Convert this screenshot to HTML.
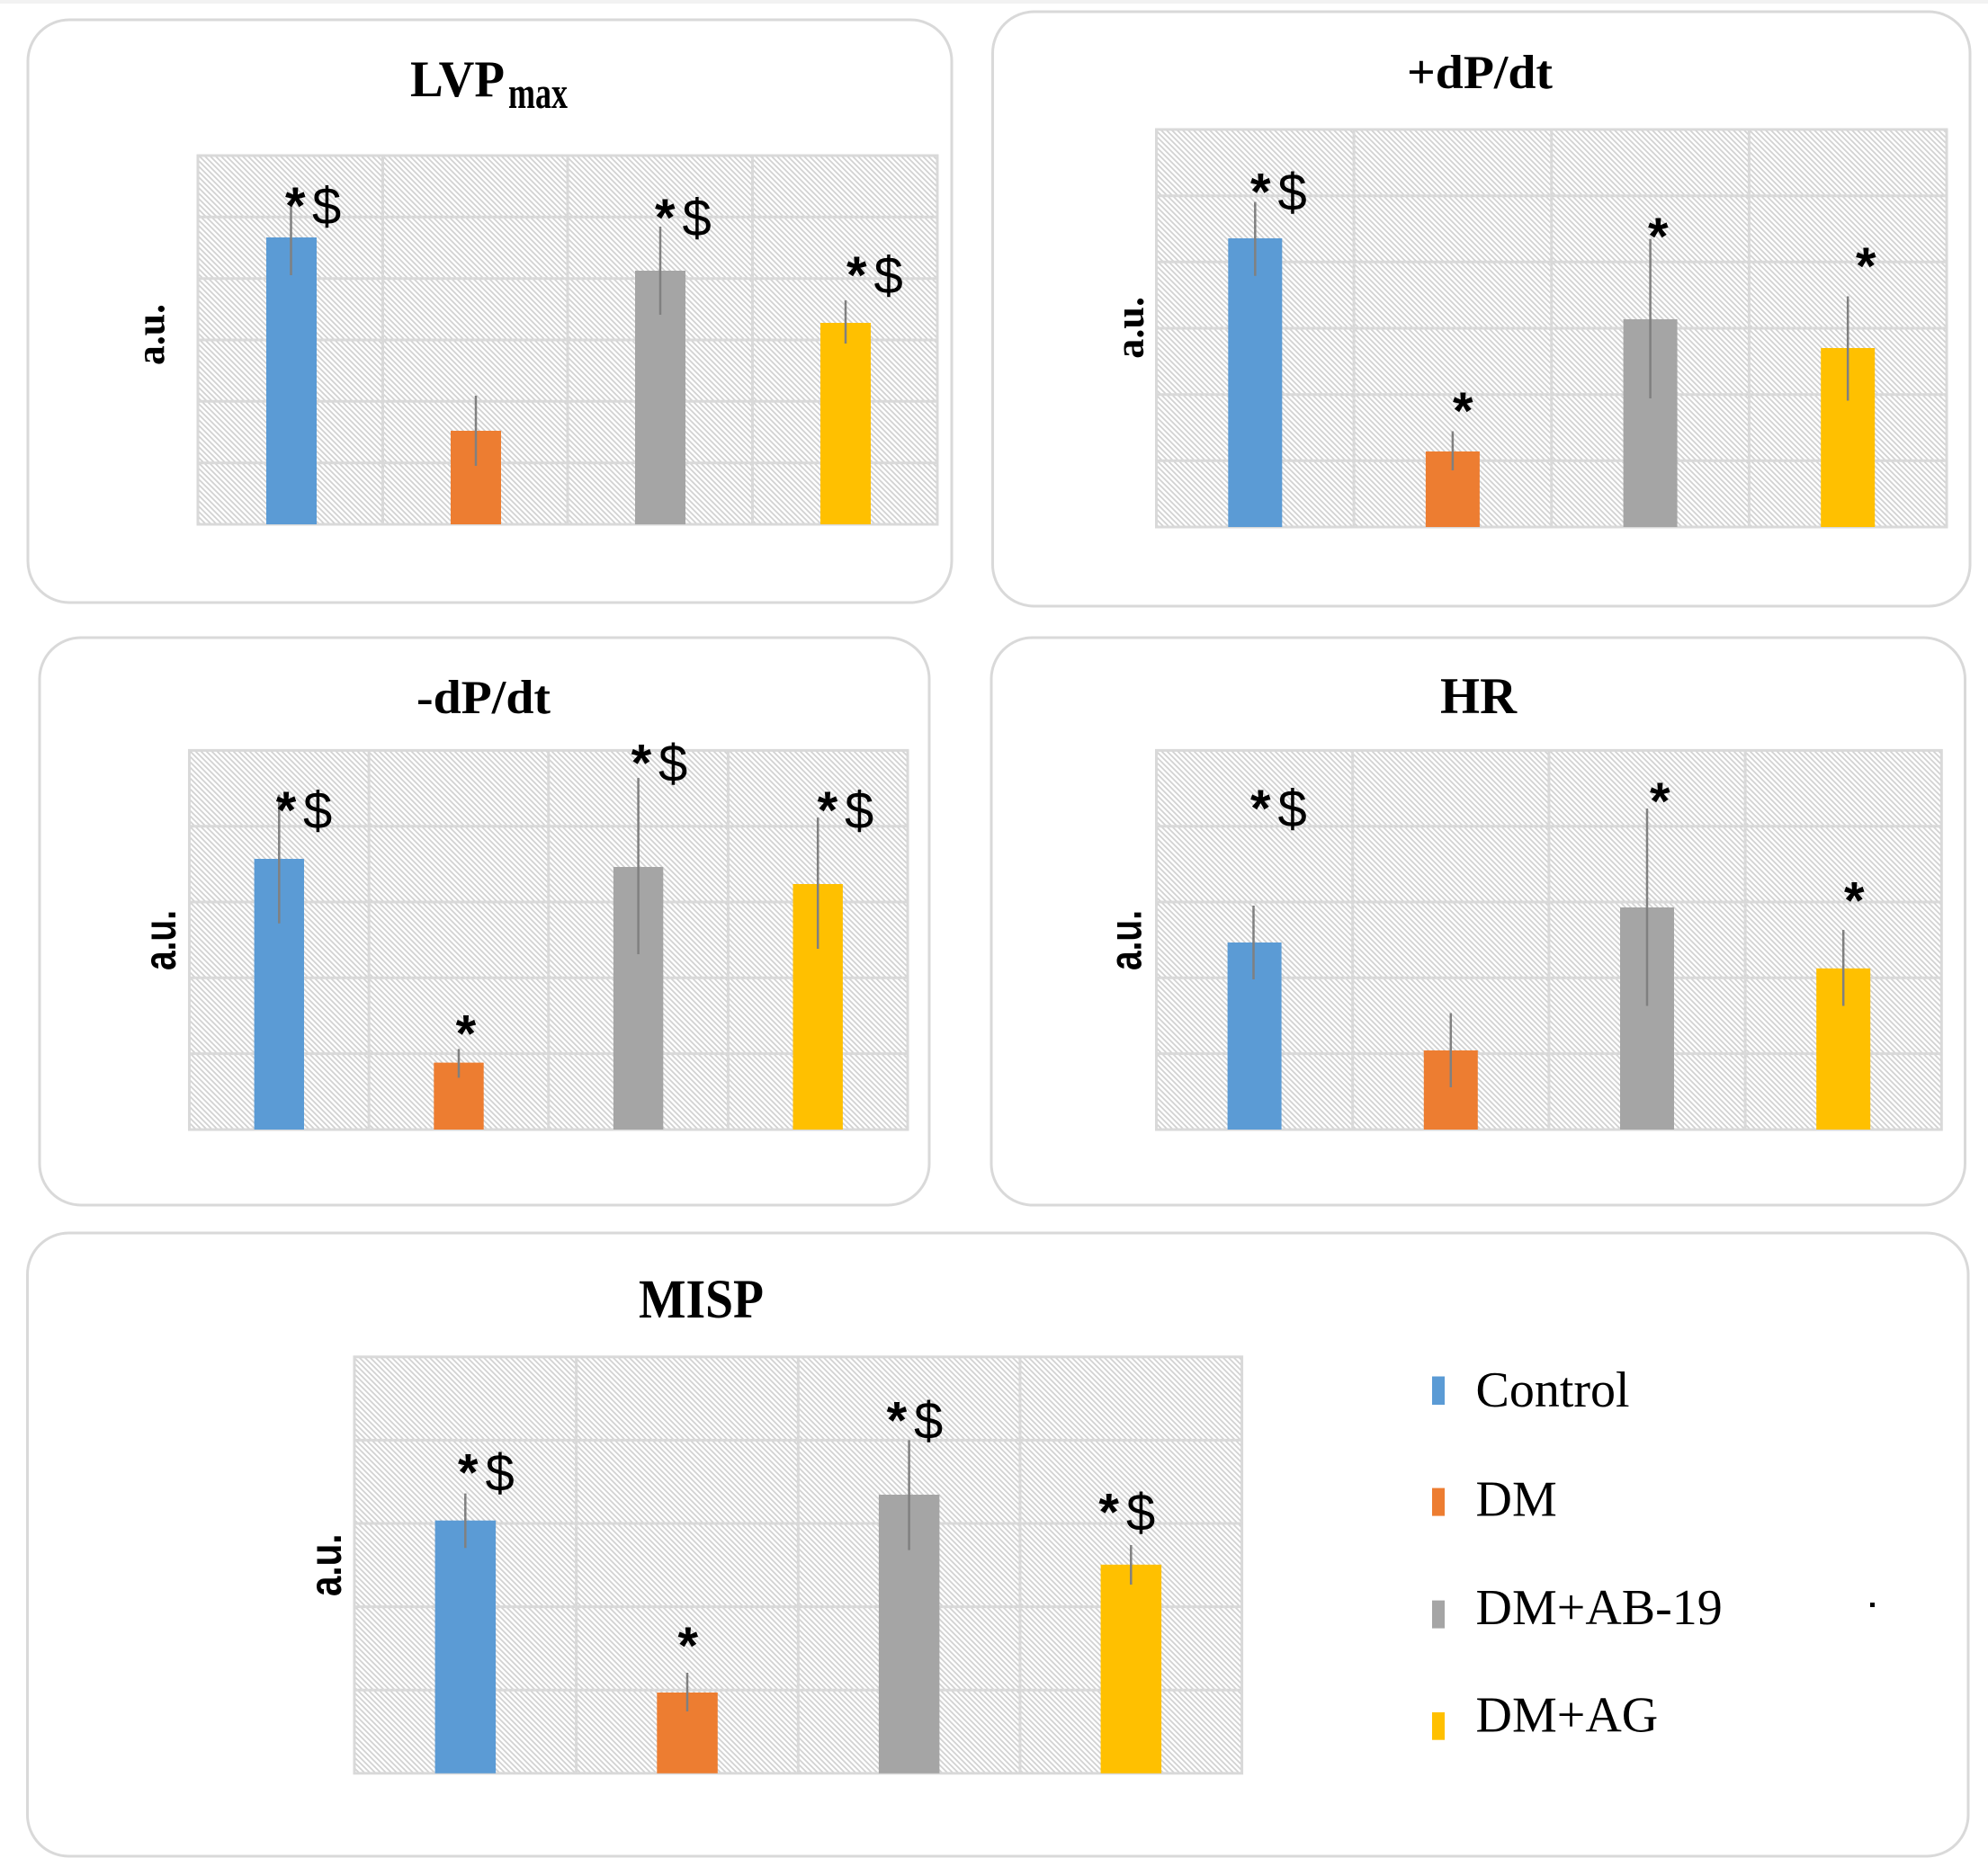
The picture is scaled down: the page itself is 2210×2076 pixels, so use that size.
<!DOCTYPE html>
<html>
<head>
<meta charset="utf-8">
<style>
html,body{margin:0;padding:0;background:#fff;}
svg{display:block;}
.ttl{font-family:"Liberation Serif",serif;font-weight:bold;fill:#000;}
.aus{font-family:"Liberation Serif",serif;font-weight:bold;fill:#000;}
.aun{font-family:"Liberation Sans",sans-serif;font-weight:bold;fill:#000;}
.an{font-family:"Liberation Sans",sans-serif;fill:#000;font-size:58px;}
.lg{font-family:"Liberation Serif",serif;fill:#000;font-size:56px;}
</style>
</head>
<body>
<svg width="2210" height="2076" viewBox="0 0 2210 2076" xmlns="http://www.w3.org/2000/svg">
<defs>
<pattern id="h" patternUnits="userSpaceOnUse" width="6" height="6">
<rect width="6" height="6" fill="#fff"/>
<path d="M-1,-1 L7,7 M-1,5 L1,7 M5,-1 L7,1" stroke="#d2d2d2" stroke-width="1.8"/>
</pattern>
</defs>
<rect x="0" y="0" width="2210" height="2076" fill="#fff"/>
<rect x="0" y="0" width="2210" height="4" fill="#f2f2f2"/>

<!-- Panels -->
<rect x="31" y="22" width="1027" height="648" rx="46" fill="#fff" stroke="#d9d9d9" stroke-width="3"/>
<rect x="1103.5" y="13" width="1086.5" height="661" rx="46" fill="#fff" stroke="#d9d9d9" stroke-width="3"/>
<rect x="44" y="709" width="989" height="631" rx="46" fill="#fff" stroke="#d9d9d9" stroke-width="3"/>
<rect x="1102" y="709" width="1082.5" height="631" rx="46" fill="#fff" stroke="#d9d9d9" stroke-width="3"/>
<rect x="30.5" y="1371" width="2157.5" height="693" rx="46" fill="#fff" stroke="#d9d9d9" stroke-width="3"/>

<!-- ===== Panel 1 LVPmax ===== -->
<rect x="220" y="173" width="822" height="410" fill="url(#h)"/>
<g stroke="#d9d9d9" stroke-width="3" fill="none">
<path d="M220,241.3H1042M220,309.7H1042M220,378H1042M220,446.3H1042M220,514.7H1042"/>
<path d="M425.5,173V583M631,173V583M836.5,173V583"/>
<rect x="220" y="173" width="822" height="410"/>
</g>
<rect x="296" y="264" width="56" height="319" fill="#5b9bd5"/>
<rect x="501" y="479" width="56" height="104" fill="#ed7d31"/>
<rect x="706" y="301" width="56" height="282" fill="#a5a5a5"/>
<rect x="912" y="359" width="56" height="224" fill="#ffc000"/>
<g stroke="#808080" stroke-width="2.5">
<path d="M323.5,223V306M529,440V518M734,252V350M940,334V382"/>
</g>
<text class="an" y="249"><tspan x="317" font-weight="bold">*</tspan><tspan x="347">$</tspan></text>
<text class="an" y="262"><tspan x="728" font-weight="bold">*</tspan><tspan x="758.5">$</tspan></text>
<text class="an" y="326"><tspan x="941" font-weight="bold">*</tspan><tspan x="971.5">$</tspan></text>
<text class="ttl" x="456" y="107" font-size="57" textLength="105" lengthAdjust="spacingAndGlyphs">LVP</text>
<text class="ttl" x="565" y="120" font-size="50" textLength="66" lengthAdjust="spacingAndGlyphs">max</text>
<text class="aus" font-size="46" textLength="68" lengthAdjust="spacingAndGlyphs" transform="translate(182.7,406) rotate(-90)">a.u.</text>

<!-- ===== Panel 2 +dP/dt ===== -->
<rect x="1285.5" y="144" width="878.5" height="442" fill="url(#h)"/>
<g stroke="#d9d9d9" stroke-width="3" fill="none">
<path d="M1285.5,217.7H2164M1285.5,291.3H2164M1285.5,365H2164M1285.5,438.7H2164M1285.5,512.3H2164"/>
<path d="M1505.1,144V586M1724.75,144V586M1944.4,144V586"/>
<rect x="1285.5" y="144" width="878.5" height="442"/>
</g>
<rect x="1365.3" y="265" width="60" height="321" fill="#5b9bd5"/>
<rect x="1584.9" y="502" width="60" height="84" fill="#ed7d31"/>
<rect x="1804.6" y="355" width="60" height="231" fill="#a5a5a5"/>
<rect x="2024.2" y="387" width="60" height="199" fill="#ffc000"/>
<g stroke="#808080" stroke-width="2.5">
<path d="M1395.3,224.5V306.7M1614.9,479.5V523M1834.6,265.6V443M2054.2,329.5V445.5"/>
</g>
<text class="an" y="233.5"><tspan x="1390" font-weight="bold">*</tspan><tspan x="1420.5">$</tspan></text>
<text class="an" x="1615" y="477" font-weight="bold">*</text>
<text class="an" x="1832" y="283" font-weight="bold">*</text>
<text class="an" x="2063" y="316" font-weight="bold">*</text>
<text class="ttl" x="1564" y="98" font-size="53" textLength="162" lengthAdjust="spacingAndGlyphs">+dP/dt</text>
<text class="aus" font-size="46" textLength="68.7" lengthAdjust="spacingAndGlyphs" transform="translate(1271,398.7) rotate(-90)">a.u.</text>

<!-- ===== Panel 3 -dP/dt ===== -->
<rect x="210.5" y="834.4" width="798.5" height="421.6" fill="url(#h)"/>
<g stroke="#d9d9d9" stroke-width="3" fill="none">
<path d="M210.5,918.7H1009M210.5,1003H1009M210.5,1087.3H1009M210.5,1171.6H1009"/>
<path d="M410.1,834.4V1256M609.75,834.4V1256M809.4,834.4V1256"/>
<rect x="210.5" y="834.4" width="798.5" height="421.6"/>
</g>
<rect x="282.6" y="955" width="55.4" height="301" fill="#5b9bd5"/>
<rect x="482.3" y="1181.6" width="55.4" height="74.4" fill="#ed7d31"/>
<rect x="681.9" y="964" width="55.4" height="292" fill="#a5a5a5"/>
<rect x="881.5" y="983" width="55.4" height="273" fill="#ffc000"/>
<g stroke="#808080" stroke-width="2.5">
<path d="M310.3,883.6V1026.7M510,1166.4V1198.4M709.6,865V1061M909.2,909V1055"/>
</g>
<text class="an" y="921"><tspan x="306.7" font-weight="bold">*</tspan><tspan x="337">$</tspan></text>
<text class="an" x="506.6" y="1169.5" font-weight="bold">*</text>
<text class="an" y="868.6"><tspan x="701.6" font-weight="bold">*</tspan><tspan x="732">$</tspan></text>
<text class="an" y="921"><tspan x="908.6" font-weight="bold">*</tspan><tspan x="939">$</tspan></text>
<text class="ttl" x="463" y="793" font-size="53" textLength="149" lengthAdjust="spacingAndGlyphs">-dP/dt</text>
<text class="aun" font-size="50" textLength="67" lengthAdjust="spacingAndGlyphs" transform="translate(195,1079) rotate(-90)">a.u.</text>

<!-- ===== Panel 4 HR ===== -->
<rect x="1285.5" y="834.4" width="872.8" height="421.6" fill="url(#h)"/>
<g stroke="#d9d9d9" stroke-width="3" fill="none">
<path d="M1285.5,918.7H2158.3M1285.5,1003H2158.3M1285.5,1087.3H2158.3M1285.5,1171.6H2158.3"/>
<path d="M1503.7,834.4V1256M1721.9,834.4V1256M1940.1,834.4V1256"/>
<rect x="1285.5" y="834.4" width="872.8" height="421.6"/>
</g>
<rect x="1364.6" y="1048" width="60" height="208" fill="#5b9bd5"/>
<rect x="1582.8" y="1168" width="60" height="88" fill="#ed7d31"/>
<rect x="1801" y="1009" width="60" height="247" fill="#a5a5a5"/>
<rect x="2019.2" y="1076.8" width="60" height="179.2" fill="#ffc000"/>
<g stroke="#808080" stroke-width="2.5">
<path d="M1393.5,1007V1089M1612.8,1126.5V1209M1831,899V1118.5M2049.2,1034V1118.5"/>
</g>
<text class="an" y="919"><tspan x="1390" font-weight="bold">*</tspan><tspan x="1420.5">$</tspan></text>
<text class="an" x="1834" y="911" font-weight="bold">*</text>
<text class="an" x="2050" y="1021.5" font-weight="bold">*</text>
<text class="ttl" x="1601" y="793" font-size="57" textLength="85" lengthAdjust="spacingAndGlyphs">HR</text>
<text class="aun" font-size="50" textLength="67" lengthAdjust="spacingAndGlyphs" transform="translate(1268.5,1079) rotate(-90)">a.u.</text>

<!-- ===== Panel 5 MISP ===== -->
<rect x="394" y="1508.8" width="986.6" height="463" fill="url(#h)"/>
<g stroke="#d9d9d9" stroke-width="3" fill="none">
<path d="M394,1601.4H1380.6M394,1694H1380.6M394,1786.6H1380.6M394,1879.2H1380.6"/>
<path d="M640.65,1508.8V1971.8M887.3,1508.8V1971.8M1133.95,1508.8V1971.8"/>
<rect x="394" y="1508.8" width="986.6" height="463"/>
</g>
<rect x="483.6" y="1690.7" width="67.5" height="281.1" fill="#5b9bd5"/>
<rect x="730.3" y="1882" width="67.5" height="89.8" fill="#ed7d31"/>
<rect x="976.9" y="1662" width="67.5" height="309.8" fill="#a5a5a5"/>
<rect x="1223.6" y="1739.8" width="67.5" height="232" fill="#ffc000"/>
<g stroke="#808080" stroke-width="2.5">
<path d="M517.3,1660.6V1721.3M764,1860V1903M1010.6,1601.4V1723.6M1257.3,1718V1762"/>
</g>
<text class="an" y="1657.6"><tspan x="509" font-weight="bold">*</tspan><tspan x="539.5">$</tspan></text>
<text class="an" x="753.5" y="1850" font-weight="bold">*</text>
<text class="an" y="1599.7"><tspan x="985.6" font-weight="bold">*</tspan><tspan x="1016">$</tspan></text>
<text class="an" y="1701.6"><tspan x="1221.4" font-weight="bold">*</tspan><tspan x="1252">$</tspan></text>
<text class="ttl" x="710" y="1465" font-size="61" textLength="139" lengthAdjust="spacingAndGlyphs">MISP</text>
<text class="aun" font-size="50" textLength="69.5" lengthAdjust="spacingAndGlyphs" transform="translate(379,1775) rotate(-90)">a.u.</text>

<!-- Legend -->
<rect x="1592" y="1530.5" width="14" height="31.5" fill="#5b9bd5"/>
<rect x="1592" y="1654.6" width="14" height="31" fill="#ed7d31"/>
<rect x="1592" y="1779.6" width="14" height="31" fill="#a5a5a5"/>
<rect x="1592" y="1904" width="14" height="30.7" fill="#ffc000"/>
<text class="lg" x="1640.5" y="1564">Control</text>
<text class="lg" x="1640.5" y="1685.6">DM</text>
<text class="lg" x="1640.5" y="1806">DM+AB-19</text>
<text class="lg" x="1640.5" y="1925.5">DM+AG</text>
<rect x="2079" y="1782" width="5" height="5" fill="#000"/>
</svg>
</body>
</html>
